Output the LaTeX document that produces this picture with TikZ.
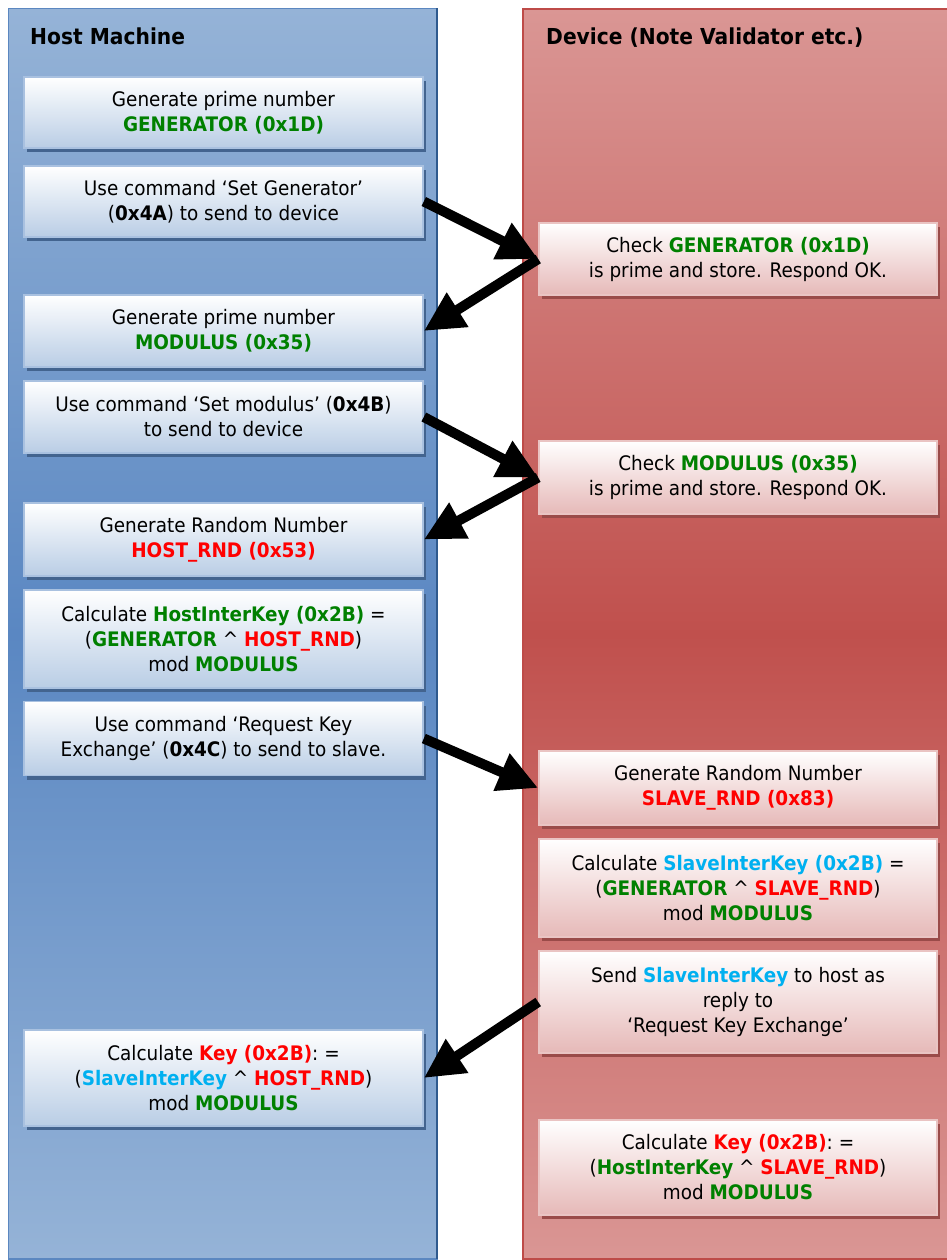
\documentclass[tikz,border=0pt]{standalone}
\usepackage{fontspec}
\setmainfont{DejaVu Sans}[FakeStretch=0.92]
\usetikzlibrary{arrows.meta,shadows}

% lane and box colours
\definecolor{hostTop}{HTML}{95B3D7}
\definecolor{hostMid}{HTML}{5A87C2}
\definecolor{hostEdge}{HTML}{5B87C0}
\definecolor{hostDark}{HTML}{2F5A8E}
\definecolor{devTop}{HTML}{DA9694}
\definecolor{devMid}{HTML}{C0504D}
\definecolor{devEdge}{HTML}{BE4B48}
\definecolor{boxBlue}{HTML}{B9CDE5}
\definecolor{boxPink}{HTML}{E6B9B8}
\definecolor{rimBlue}{HTML}{A9C1E0}
\definecolor{rimPink}{HTML}{EAC4C3}
\definecolor{shadeBlue}{HTML}{43648F}
\definecolor{shadeRed}{HTML}{9A4B49}
% text highlight colours
\definecolor{kgreen}{RGB}{0,128,0}
\definecolor{kred}{RGB}{255,0,0}
\definecolor{kcyan}{HTML}{00B0F0}

\newcommand{\gk}[1]{\textbf{\color{kgreen}#1}}
\newcommand{\rk}[1]{\textbf{\color{kred}#1}}
\newcommand{\ck}[1]{\textbf{\color{kcyan}#1}}
\newcommand{\powop}{ \textasciicircum{} }

\tikzset{
  lanetitle/.style={anchor=base west, inner sep=0pt,
    font=\fontsize{22}{26}\selectfont\bfseries},
  basebox/.style={rectangle, inner sep=0pt, align=center, line width=1.6pt,
    font=\fontsize{20}{25}\selectfont},
  hostbox/.style={basebox, minimum width=399pt, top color=white,
    bottom color=boxBlue, draw=rimBlue,
    general shadow={fill=shadeBlue, shadow xshift=3pt, shadow yshift=-4pt}},
  devbox/.style={basebox, minimum width=398pt, top color=white,
    bottom color=boxPink, draw=rimPink,
    general shadow={fill=shadeRed, shadow xshift=3pt, shadow yshift=-4pt}},
  msg/.style={line width=10pt, black,
    -{Triangle[length=40pt,width=38pt]}}
}

\begin{document}
\begin{tikzpicture}[x=1pt,y=-1pt]
\useasboundingbox (0,0) rectangle (946,1260);

% swim lanes
\draw[hostEdge, line width=1.5pt, top color=hostTop, bottom color=hostTop,
  middle color=hostMid] (8.5,8.5) rectangle (437,1259);
\draw[hostDark, line width=1.5pt] (437,8.5) -- (437,1259);
\draw[devEdge, line width=1.5pt, top color=devTop, bottom color=devTop,
  middle color=devMid] (523,9) rectangle (950,1259);

\node[lanetitle] (hosttitle) at (30,45) {Host Machine};
\node[lanetitle] (devtitle) at (546,45) {Device (Note Validator etc.)};

% host steps
\node[hostbox, minimum height=71pt] (h1) at (223.5,112.5)
  {Generate prime number\\\gk{GENERATOR (0x1D)}};
\node[hostbox, minimum height=71pt] (h2) at (223.5,201.5)
  {Use command ‘Set Generator’\\(\textbf{0x4A}) to send to device};
\node[hostbox, minimum height=72pt] (h3) at (223.5,331)
  {Generate prime number\\\gk{MODULUS (0x35)}};
\node[hostbox, minimum height=72pt] (h4) at (223.5,417)
  {Use command ‘Set modulus’ (\textbf{0x4B})\\to send to device};
\node[hostbox, minimum height=73pt] (h5) at (223.5,539.5)
  {Generate Random Number\\\rk{HOST\_RND (0x53)}};
\node[hostbox, minimum height=98pt] (h6) at (223.5,639)
  {Calculate \gk{HostInterKey (0x2B)} =\\(\gk{GENERATOR}\powop\rk{HOST\_RND})\\mod \gk{MODULUS}};
\node[hostbox, minimum height=74pt] (h7) at (223.5,738.5)
  {Use command ‘Request Key\\Exchange’ (\textbf{0x4C}) to send to slave.};
\node[hostbox, minimum height=96pt] (h8) at (223.5,1078)
  {Calculate \rk{Key (0x2B)}: =\\(\ck{SlaveInterKey}\powop\rk{HOST\_RND})\\mod \gk{MODULUS}};

% device steps
\node[devbox, minimum height=72pt] (d1) at (738,259)
  {Check \gk{GENERATOR (0x1D)}\\is prime and store. Respond OK.};
\node[devbox, minimum height=73pt] (d2) at (738,477.5)
  {Check \gk{MODULUS (0x35)}\\is prime and store. Respond OK.};
\node[devbox, minimum height=74pt] (d3) at (738,788)
  {Generate Random Number\\\rk{SLAVE\_RND (0x83)}};
\node[devbox, minimum height=98pt] (d4) at (738,888)
  {Calculate \ck{SlaveInterKey (0x2B)} =\\(\gk{GENERATOR}\powop\rk{SLAVE\_RND})\\mod \gk{MODULUS}};
\node[devbox, minimum height=102pt] (d5) at (738,1002)
  {Send \ck{SlaveInterKey} to host as\\reply to\\‘Request Key Exchange’};
\node[devbox, minimum height=95pt] (d6) at (738,1167.5)
  {Calculate \rk{Key (0x2B)}: =\\(\gk{HostInterKey}\powop\rk{SLAVE\_RND})\\mod \gk{MODULUS}};

% messages between host and device
\draw[msg] (h2.east) -- (d1.west);
\draw[msg] (d1.west) -- (h3.east);
\draw[msg] (h4.east) -- (d2.west);
\draw[msg] (d2.west) -- (h5.east);
\draw[msg] (h7.east) -- (d3.west);
\draw[msg] (d5.west) -- (h8.east);
\end{tikzpicture}
\end{document}
